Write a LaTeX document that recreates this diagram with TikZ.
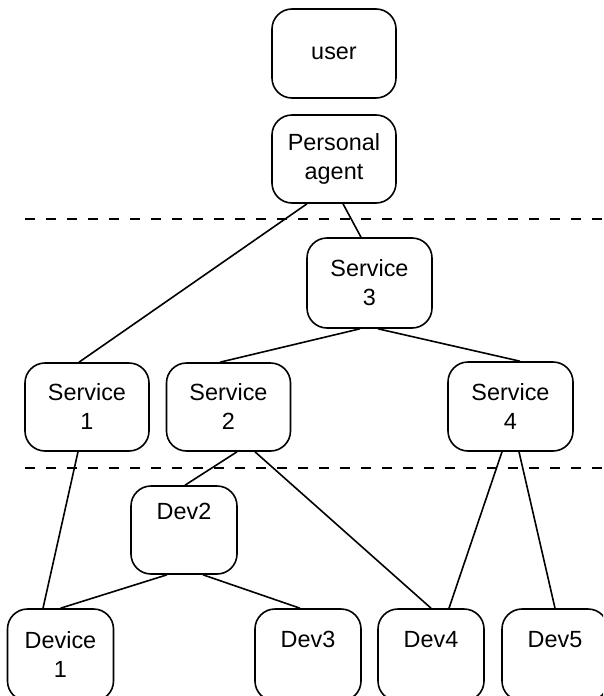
\documentclass[tikz,border=0pt]{standalone}
\usepackage{fontspec}
\setmainfont{Liberation Sans}
\begin{document}
\begin{tikzpicture}[x=1pt,y=-1pt,
  box/.style={draw,line width=1.6pt,rounded corners=20pt,align=center,
    inner sep=0pt,font=\fontsize{23.4}{29}\selectfont},
  wide/.style={box,minimum width=124pt,minimum height=88pt},
  narrow/.style={box,minimum width=106pt,minimum height=88pt},
  link/.style={line width=1.6pt},
  layer/.style={line width=1.5pt,dash pattern=on 10pt off 11pt}]
\useasboundingbox (0,0) rectangle (603,696);
\clip (0,0) rectangle (603,696);

% layer separators
\coordinate (sepAl) at (25,219);
\coordinate (sepAr) at (603,219);
\coordinate (sepBl) at (25,468);
\coordinate (sepBr) at (603,468);
\draw[layer] (sepAl) -- (sepAr);
\draw[layer] (sepBl) -- (sepBr);

% top level
\node[wide,minimum height=89pt] (user) at (334,53.5) {user};
\node[wide] (agent) at (334,159) {Personal\\agent};

% services
\node[wide,minimum width=125pt,minimum height=90pt] (s3) at (369.5,283) {Service\\3};
\node[wide] (s1) at (87,407) {Service\\1};
\node[wide] (s2) at (228.5,407) {Service\\2};
\node[wide,minimum width=125pt,minimum height=89pt] (s4) at (510.5,406.5) {Service\\4};

% devices (bottom row runs off the lower edge)
\node[narrow] (dev2) at (184,530) {Dev2\\\strut};
\node[narrow,minimum height=92pt] (d1) at (60.5,655) {Device\\1};
\node[narrow,minimum height=92pt,text depth=2pt] (d3) at (308,655) {Dev3\\\strut};
\node[narrow,minimum height=92pt,text depth=2pt] (d4) at (431,655) {Dev4\\\strut};
\node[narrow,minimum height=92pt,text depth=2pt] (d5) at (555,655) {Dev5\\\strut};

% connections
\draw[link] ([xshift=-27pt]agent.south) -- ([xshift=-8pt]s1.north);
\draw[link] ([xshift=9pt]agent.south) -- ([xshift=-8.5pt]s3.north);
\draw[link] ([xshift=-9.5pt]s3.south) -- ([xshift=-8.5pt]s2.north);
\draw[link] ([xshift=8.5pt]s3.south) -- ([xshift=9.5pt]s4.north);
\draw[link] ([xshift=-9pt]s1.south) -- ([xshift=-17.5pt]d1.north);
\draw[link] ([xshift=8.5pt]s2.south) -- ([xshift=1pt]dev2.north);
\draw[link] ([xshift=26.5pt]s2.south) -- (d4.north);
\draw[link] ([xshift=-17pt]dev2.south) -- (d1.north);
\draw[link] ([xshift=19pt]dev2.south) -- ([xshift=-8pt]d3.north);
\draw[link] ([xshift=-8.5pt]s4.south) -- ([xshift=18pt]d4.north);
\draw[link] ([xshift=8.5pt]s4.south) -- (d5.north);
\end{tikzpicture}
\end{document}
